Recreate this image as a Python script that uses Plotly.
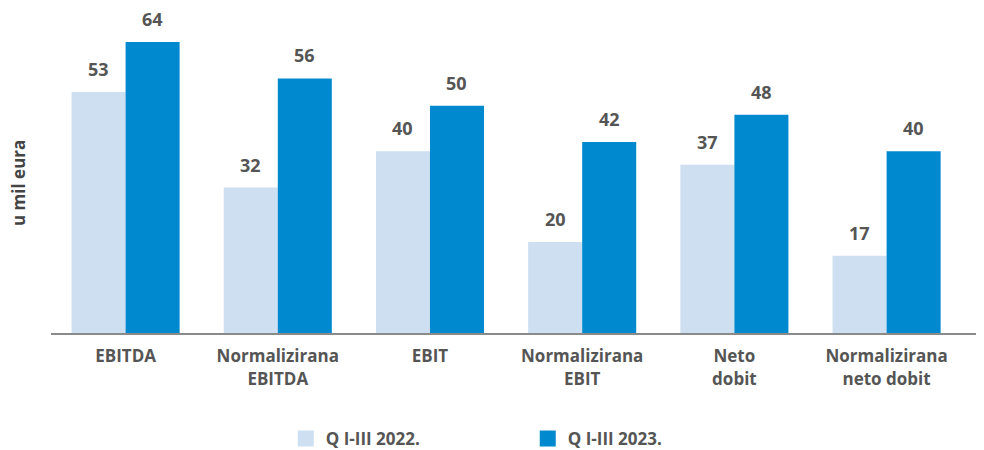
import plotly.graph_objects as go

categories = ["EBITDA", "Normalizirana<br>EBITDA", "EBIT", "Normalizirana<br>EBIT",
              "Neto<br>dobit", "Normalizirana<br>neto dobit"]
series_names = ["Q I-III 2022.", "Q I-III 2023."]
values_2022 = [53, 32, 40, 20, 37, 17]
values_2023 = [64, 56, 50, 42, 48, 40]

colors = ["#cddff0", "#0089cf"]
text_color = "#555555"
font_family = "'Open Sans', Roboto, sans-serif"
label_font = {"size": 18, "color": text_color, "family": font_family, "weight": "bold"}

fig = go.Figure()

for name, vals, color in zip(series_names, [values_2022, values_2023], colors):
    fig.add_trace(go.Bar(
        x=categories,
        y=vals,
        name=name,
        marker={"color": color, "line": {"width": 0}},
        showlegend=False,
        hovertemplate="%{x}: %{y}<extra>" + name + "</extra>",
    ))
    # bigger square legend symbols
    fig.add_trace(go.Scatter(
        x=[None], y=[None],
        mode="markers",
        marker={"symbol": "square", "size": 21, "color": color},
        name=name,
        showlegend=True,
    ))

# value labels above each bar (left bar / right bar of each group)
for vals, shift in [(values_2022, -27), (values_2023, 27)]:
    for cat, v in zip(categories, vals):
        fig.add_annotation(
            x=cat, y=v, xshift=shift, yshift=9,
            text=str(v), showarrow=False,
            yanchor="bottom", font=label_font,
        )

fig.add_annotation(
    text="u mil eura",
    xref="paper", yref="paper",
    x=-0.0354, y=0.5,
    xanchor="center", yanchor="middle",
    textangle=-90,
    showarrow=False,
    font={"size": 17, "color": "#444444", "weight": "bold", "family": font_family},
)

fig.update_layout(
    width=984,
    height=450,
    barmode="group",
    bargap=0.29,
    bargroupgap=0,
    plot_bgcolor="white",
    paper_bgcolor="white",
    margin={"l": 43, "r": 8, "t": 25, "b": 125, "autoexpand": False},
    font={"family": font_family, "color": text_color},
    xaxis={
        "range": [-0.49, 5.64],
        "showline": True,
        "linecolor": "#8a8a8a",
        "linewidth": 2,
        "ticks": "",
        "ticklabelstandoff": 7,
        "tickfont": {"size": 17, "color": text_color, "weight": "bold"},
        "showgrid": False,
        "automargin": False,
    },
    yaxis={
        "range": [0, 66],
        "showgrid": False,
        "zeroline": False,
        "showticklabels": False,
        "automargin": False,
    },
    legend={
        "orientation": "h",
        "x": 0.2516,
        "xanchor": "left",
        "y": -0.353,
        "yanchor": "middle",
        "entrywidth": 197,
        "entrywidthmode": "pixels",
        "font": {"size": 17, "color": text_color, "weight": "bold"},
        "itemsizing": "trace",
    },
)

fig.write_html("out.html")
